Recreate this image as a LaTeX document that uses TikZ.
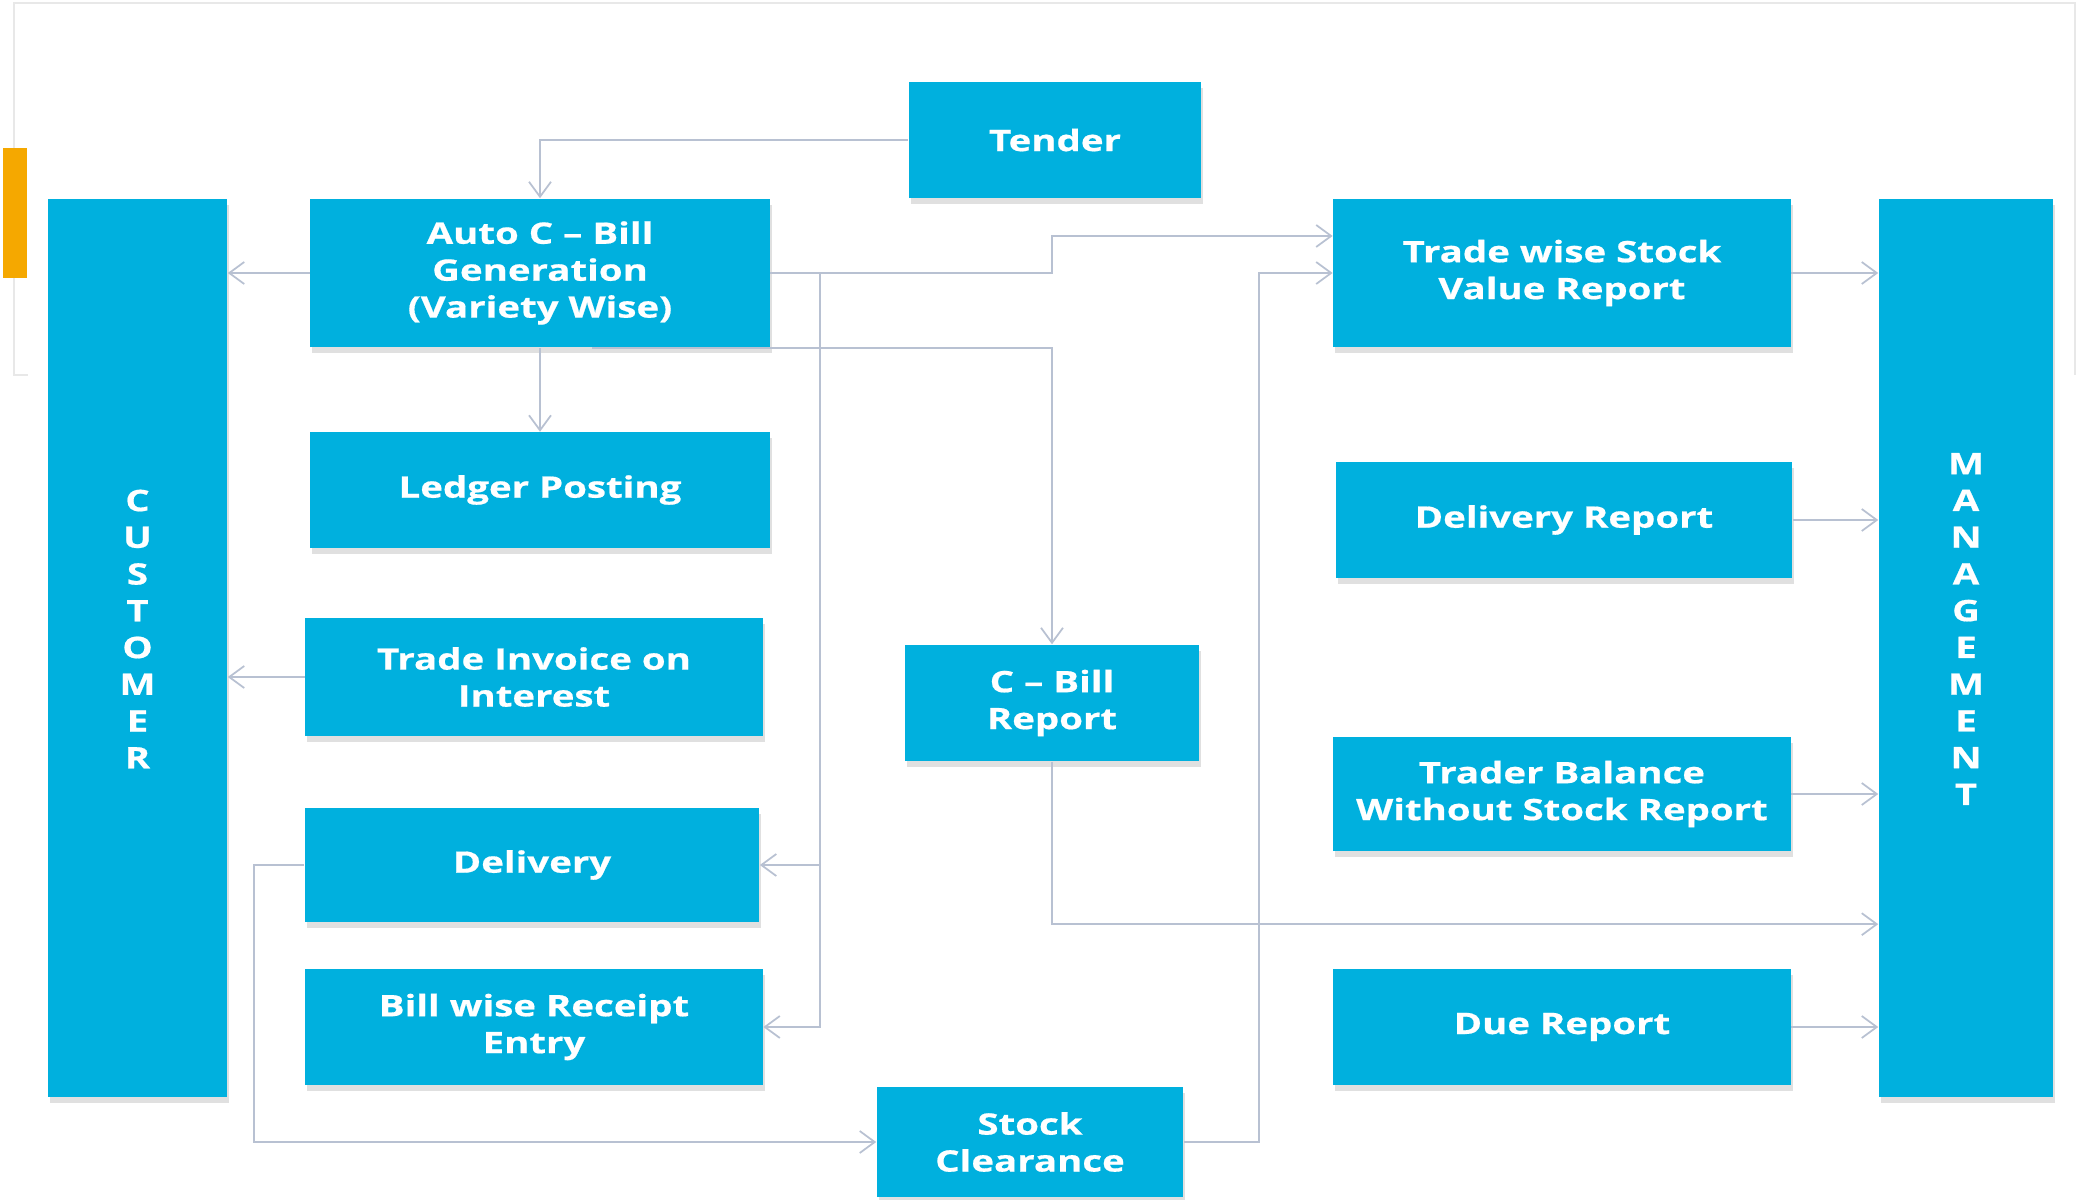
\documentclass[tikz,border=0pt]{standalone}
\usepackage{fontspec}
\setmainfont{Open Sans}[FakeStretch=1.3, BoldFeatures={FakeBold=0.6}]
\usetikzlibrary{arrows.meta,shadows}

\definecolor{boxblue}{RGB}{0,176,222}
\definecolor{linegray}{RGB}{184,193,210}
\definecolor{framegray}{RGB}{232,232,232}
\definecolor{barorange}{RGB}{245,168,0}

\tikzset{
  box/.style={fill=boxblue, text=white, inner sep=0pt, align=center,
    font=\bfseries\fontsize{8.4}{10.5}\selectfont,
    drop shadow={shadow xshift=0.02cm, shadow yshift=-0.06cm, fill=black!40, opacity=0.3}},
  bartext/.style={text=white, align=center, font=\bfseries\fontsize{8.4}{10.45}\selectfont},
  conn/.style={draw=linegray, line width=0.5pt, -{Straight Barb[length=1.5mm,width=2.2mm]}}
}

\begin{document}
\begin{tikzpicture}[x=0.01cm, y=-0.01cm]
    \useasboundingbox (0,0) rectangle (2078,1200);

    \draw [framegray, line width=0.6pt] (28,375) -- (14,375) -- (14,3) -- (2075,3) -- (2075,375);
    \fill [barorange] (3,148) rectangle (27,278);

    \node [box, minimum width=1.79cm, minimum height=8.98cm] (cust) at (137.5,648) {};
    \node [box, minimum width=1.74cm, minimum height=8.98cm] (mgmt) at (1966,648) {};
    \node [bartext] (custtxt) at (137.5,629) {C\\U\\S\\T\\O\\M\\E\\R};
    \node [bartext] (mgmttxt) at (1966,629) {M\\A\\N\\A\\G\\E\\M\\E\\N\\T};

    \node [box, minimum width=2.92cm, minimum height=1.15cm] (tender) at (1055,140) {Tender};
    \node [box, minimum width=4.59cm, minimum height=1.48cm] (auto) at (540,273) {Auto C -- Bill\\Generation\\(Variety Wise)};
    \node [box, minimum width=4.59cm, minimum height=1.15cm] (ledger) at (540,490) {Ledger Posting};
    \node [box, minimum width=4.57cm, minimum height=1.17cm] (invoice) at (534,677) {Trade Invoice on\\Interest};
    \node [box, minimum width=4.54cm, minimum height=1.14cm] (delivery) at (532,865) {Delivery};
    \node [box, minimum width=4.57cm, minimum height=1.15cm] (receipt) at (534,1027) {Bill wise Receipt\\Entry};
    \node [box, minimum width=2.93cm, minimum height=1.16cm] (cbill) at (1052,703) {C -- Bill\\Report};
    \node [box, minimum width=3.06cm, minimum height=1.09cm] (stock) at (1030,1142) {Stock\\Clearance};

    \node [box, minimum width=4.57cm, minimum height=1.48cm] (tradestock) at (1562,273) {Trade wise Stock\\Value Report};
    \node [box, minimum width=4.56cm, minimum height=1.15cm] (delrep) at (1564,520) {Delivery Report};
    \node [box, minimum width=4.57cm, minimum height=1.13cm] (tradbal) at (1562,794) {Trader Balance\\Without Stock Report};
    \node [box, minimum width=4.57cm, minimum height=1.15cm] (due) at (1562,1027) {Due Report};

    \coordinate (split) at (820,273);
    \coordinate (riser) at (1259,1142);
    \coordinate (loop) at (254,865);

    \draw [conn] (tender.west) -| (auto.north);
    \draw [conn] (auto.west) -- (auto.west -| cust.east);
    \draw [conn] (auto.south) -- (ledger.north);
    \draw [conn] (invoice.west) -- (invoice.west -| cust.east);
    \draw [conn] (auto.east) -- (auto.east -| cbill.north) |- ([yshift=0.37cm]tradestock.west);
    \draw [conn] (auto.east) -- (split) |- (delivery.east);
    \draw [conn] (split) |- (receipt.east);
    \draw [conn] ([xshift=0.52cm]auto.south) -| (cbill.north);
    \draw [conn] (cbill.south) |- ([yshift=-2.76cm]mgmt.west);
    \draw [conn] (stock.east) -- (riser) |- (tradestock.west);
    \draw [conn] (delivery.west) -- (loop) |- (stock.west);

    \draw [conn] (tradestock.east) -- (tradestock.east -| mgmt.west);
    \draw [conn] (delrep.east) -- (delrep.east -| mgmt.west);
    \draw [conn] (tradbal.east) -- (tradbal.east -| mgmt.west);
    \draw [conn] (due.east) -- (due.east -| mgmt.west);
\end{tikzpicture}
\end{document}
